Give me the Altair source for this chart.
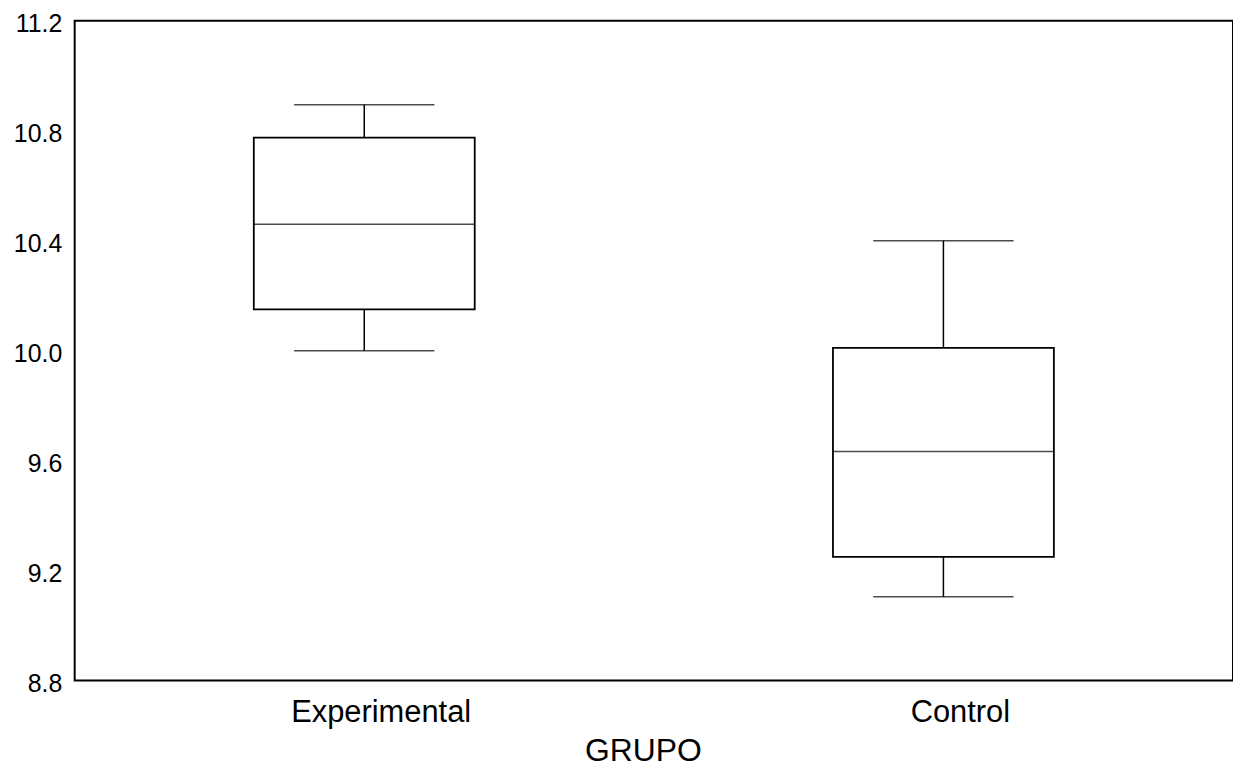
import altair as alt
import pandas as pd

grupos = ["Experimental", "Control"]
minimo = [10.0, 9.105]
q1 = [10.15, 9.25]
mediana = [10.46, 9.633]
q3 = [10.775, 10.01]
maximo = [10.895, 10.4]

y_ticks = [8.8, 9.2, 9.6, 10.0, 10.4, 10.8, 11.2]

df = pd.DataFrame({
    "GRUPO": grupos,
    "min": minimo,
    "q1": q1,
    "med": mediana,
    "q3": q3,
    "max": maximo,
})

FONT = "Liberation Sans"

x = alt.X(
    "GRUPO:N",
    sort=grupos,
    scale=alt.Scale(paddingInner=0, paddingOuter=0),
    axis=alt.Axis(
        title="GRUPO",
        labelAngle=0,
        labelFontSize=31,
        labelFont=FONT,
        labelColor="black",
        labelPadding=17,
        labelOffset=17,
        labelLimit=500,
        ticks=False,
        domain=False,
        titleFontSize=32,
        titleFont=FONT,
        titleFontWeight="normal",
        titleColor="black",
        titleBaseline="alphabetic",
        titleY=80,
        titleX=571,
        titleAlign="center",
        titleAnchor="start",
    ),
)

yscale = alt.Scale(domain=[8.8, 11.2], nice=False, zero=False)
yaxis = alt.Axis(
    title=None,
    values=y_ticks,
    format=".1f",
    labelFontSize=25,
    labelFont=FONT,
    labelColor="black",
    labelPadding=13,
    labelOffset=3,
    ticks=False,
    domain=False,
    grid=False,
)

base = alt.Chart(df)

lower_whisker = base.mark_rule(color="black", strokeWidth=1.5).encode(
    x=x,
    y=alt.Y("min:Q", scale=yscale, axis=yaxis),
    y2="q1:Q",
)
upper_whisker = base.mark_rule(color="black", strokeWidth=1.5).encode(
    x=x,
    y=alt.Y("q3:Q", scale=yscale, axis=yaxis),
    y2="max:Q",
)
box = base.mark_bar(fill="white", stroke="black", strokeWidth=1.8, size=222).encode(
    x=x,
    y=alt.Y("q1:Q", scale=yscale, axis=yaxis),
    y2="q3:Q",
)
median = base.mark_tick(color="black", thickness=1.5, size=222).encode(
    x=x,
    y=alt.Y("med:Q", scale=yscale, axis=yaxis),
)
cap_low = base.mark_tick(color="black", thickness=1.5, size=141).encode(
    x=x,
    y=alt.Y("min:Q", scale=yscale, axis=yaxis),
)
cap_high = base.mark_tick(color="black", thickness=1.5, size=141).encode(
    x=x,
    y=alt.Y("max:Q", scale=yscale, axis=yaxis),
)

chart = (
    alt.layer(lower_whisker, upper_whisker, box, median, cap_low, cap_high)
    .properties(
        width=1164,
        height=663,
        autosize=alt.AutoSizeParams(type="none"),
        padding={"left": 67, "top": 11, "right": 0, "bottom": 88},
        background="white",
    )
    .configure_view(stroke="black", strokeWidth=2)
)

chart.save("out.html", embed_options={"renderer": "svg", "actions": False})
